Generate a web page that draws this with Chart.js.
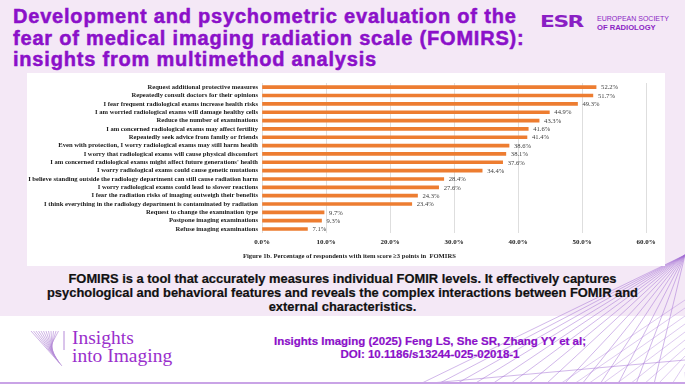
<!DOCTYPE html>
<html><head><meta charset="utf-8">
<script src="https://cdn.jsdelivr.net/npm/chart.js@4/dist/chart.umd.min.js"></script>
<style>
html,body{margin:0;padding:0;}
body{width:685px;height:384px;position:relative;overflow:hidden;background:#fff;font-family:"Liberation Sans",Arial,sans-serif;}
#lilac{position:absolute;left:0;top:0;width:685px;height:316px;background:#f4e8f6;}
#title{position:absolute;left:13px;top:6px;width:560px;font-weight:bold;font-size:20px;letter-spacing:0.8px;line-height:21.5px;color:#8b10c9;-webkit-text-stroke:0.5px #8b10c9;white-space:nowrap;}
#esr{position:absolute;left:540px;top:13px;width:145px;height:20px;}
#esrmark{position:absolute;left:0;top:0;font-family:"DejaVu Sans",sans-serif;font-weight:900;font-size:15px;letter-spacing:-1px;color:#8a1fc4;transform:scaleX(1.45);transform-origin:left;}
#esrtext{position:absolute;left:57px;top:2px;font-size:7px;line-height:8.5px;color:#8a1fc4;}
#panel{position:absolute;left:27px;top:73px;width:638px;height:193px;background:#fff;}
#caption{position:absolute;left:243px;top:252px;font-family:"Liberation Serif",serif;font-weight:bold;font-size:6.6px;color:#222;white-space:nowrap;}
#body{position:absolute;left:0;width:685px;top:272px;text-align:center;font-weight:bold;font-size:12.9px;line-height:14px;color:#111;-webkit-text-stroke:0.2px #111;}
#ref{position:absolute;left:230px;width:400px;top:335px;text-align:center;font-weight:bold;font-size:11.5px;line-height:13px;color:#8b10c9;-webkit-text-stroke:0.2px #8b10c9;}
#ii{position:absolute;left:72px;top:329px;font-family:"Liberation Serif",serif;font-size:19.5px;line-height:18px;color:#9a2fcc;}
svg{position:absolute;left:0;top:0;}
</style></head>
<body>
<div id="lilac"></div>
<svg width="685" height="384" id="deco"></svg>
<div id="title">Development and psychometric evaluation of the<br>fear of medical imaging radiation scale (FOMIRS):<br>insights from multimethod analysis</div>
<div id="esr"><div id="esrmark">ESR</div><div id="esrtext">EUROPEAN SOCIETY<br><b style="font-size:7.6px">OF RADIOLOGY</b></div></div>
<div id="panel"><canvas id="c"></canvas></div>
<div id="caption">Figure 1b. Percentage of respondents with item score ≥3 points in &nbsp;FOMIRS</div>
<div id="body">FOMIRS is a tool that accurately measures individual FOMIR levels. It effectively captures<br>psychological and behavioral features and reveals the complex interactions between FOMIR and<br>external characteristics.</div>
<div id="ii">Insights<br>into Imaging</div>
<div id="ref">Insights Imaging (2025) Feng LS, She SR, Zhang YY et al;<br>DOI: 10.1186/s13244-025-02018-1</div>
<script>
const categories = [
  "Request additional protective measures",
  "Repeatedly consult doctors for their opinions",
  "I fear frequent radiological exams increase health risks",
  "I am worried radiological exams will damage healthy cells",
  "Reduce the number of examinations",
  "I am concerned radiological exams may affect fertility",
  "Repeatedly seek advice from family or friends",
  "Even with protection, I worry radiological exams may still harm health",
  "I worry that radiological exams will cause physical discomfort",
  "I am concerned radiological exams might affect future generations' health",
  "I worry radiological exams could cause genetic mutations",
  "I believe standing outside the radiology department can still cause radiation harm",
  "I worry radiological exams could lead to slower reactions",
  "I fear the radiation risks of imaging outweigh their benefits",
  "I think everything in the radiology department is contaminated by radiation",
  "Request to change the examination type",
  "Postpone imaging examinations",
  "Refuse imaging examinations"
];
const percentages = [52.2, 51.7, 49.3, 44.9, 43.3, 41.6, 41.4, 38.6, 38.1, 37.6, 34.4, 28.4, 27.6, 24.3, 23.4, 9.7, 9.3, 7.1];
const xTicks = [0, 10, 20, 30, 40, 50, 60];

// decorative lines (background ornament, not data)
(function(){
  const svg = document.getElementById('deco');
  let s = '';
  const col = '#a46fd6';
  for (let i = 0; i < 14; i++) {
    s += `<line x1="685" y1="255" x2="${420 + i*18}" y2="384" stroke="${col}" stroke-width="0.7" opacity="0.7"/>`;
  }
  for (let i = 0; i < 10; i++) {
    s += `<line x1="${560 + i*14}" y1="384" x2="685" y2="${300 + i*8}" stroke="${col}" stroke-width="0.6" opacity="0.6"/>`;
  }
  s += `<line x1="420" y1="384" x2="685" y2="360" stroke="${col}" stroke-width="0.7" opacity="0.7"/>`;
  s += `<line x1="0" y1="383" x2="685" y2="383" stroke="#c9a3e6" stroke-width="2"/>`;
  for (let i = 0; i < 12; i++) {
    s += `<line x1="${31 + i*2.5}" y1="331" x2="${62 - i*1.2}" y2="${366 - i*1.5}" stroke="#b58ad8" stroke-width="0.8" opacity="0.8"/>`;
  }
  s += `<line x1="64" y1="331" x2="64" y2="350" stroke="#b58ad8" stroke-width="1"/>`;
  svg.innerHTML = s;
})();

const valueLabels = {
  id: 'valueLabels',
  afterDatasetsDraw(chart) {
    const ctx = chart.ctx;
    const meta = chart.getDatasetMeta(0);
    ctx.save();
    ctx.font = '6.6px "Liberation Serif", serif';
    ctx.fillStyle = '#404040';
    ctx.textBaseline = 'middle';
    ctx.textAlign = 'left';
    meta.data.forEach((bar, i) => {
      ctx.fillText(percentages[i].toFixed(1) + '%', bar.x + 5, bar.y + 0.5);
    });
    ctx.restore();
  }
};

new Chart(document.getElementById('c'), {
  type: 'bar',
  data: {
    labels: categories,
    datasets: [{
      data: percentages,
      backgroundColor: '#ed7d31',
      barThickness: 3,
      borderWidth: 0
    }]
  },
  options: {
    indexAxis: 'y',
    responsive: true,
    maintainAspectRatio: false,
    animation: false,
    layout: { padding: { left: 0, right: 19, top: 10, bottom: 0 } },
    plugins: { legend: { display: false }, tooltip: { enabled: false } },
    scales: {
      x: {
        min: 0, max: 60,
        afterBuildTicks(scale) { scale.ticks = xTicks.map(v => ({ value: v })); },
        afterFit(scale) { scale.height = 32.8; },
        grid: { color: '#dedede', lineWidth: 1, drawTicks: false },
        border: { display: false },
        ticks: {
          padding: 5,
          color: '#222',
          font: { family: '"Liberation Serif", serif', size: 7, weight: 'bold' },
          callback: v => v.toFixed(1) + '%'
        }
      },
      y: {
        afterFit(scale) { scale.width = 235; },
        grid: { display: false, drawTicks: false },
        border: { display: false },
        ticks: {
          padding: 4,
          autoSkip: false,
          color: '#1a1a1a',
          font: { family: '"Liberation Serif", serif', size: 6.6, weight: 'bold' }
        }
      }
    }
  },
  plugins: [valueLabels]
});
</script>
</body></html>
